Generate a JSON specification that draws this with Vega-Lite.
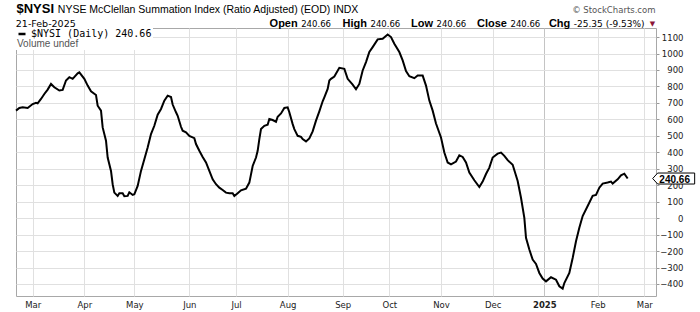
{
  "$schema": "https://vega.github.io/schema/vega-lite/v6.json",
  "width": 640,
  "height": 268,
  "autosize": {"type": "none"},
  "padding": {"left": 16, "top": 28, "right": 44, "bottom": 16},
  "background": "white",
  "data": {"values": [
    {"date": "2024-02-20", "value": 653}, {"date": "2024-02-22", "value": 669}, {"date": "2024-02-24", "value": 673}, {"date": "2024-02-27", "value": 669},
    {"date": "2024-03-01", "value": 693}, {"date": "2024-03-03", "value": 701}, {"date": "2024-03-04", "value": 697}, {"date": "2024-03-06", "value": 724},
    {"date": "2024-03-08", "value": 754}, {"date": "2024-03-10", "value": 781}, {"date": "2024-03-12", "value": 815}, {"date": "2024-03-14", "value": 795},
    {"date": "2024-03-17", "value": 775}, {"date": "2024-03-19", "value": 779}, {"date": "2024-03-21", "value": 836}, {"date": "2024-03-23", "value": 856},
    {"date": "2024-03-25", "value": 846}, {"date": "2024-03-28", "value": 880}, {"date": "2024-03-29", "value": 886}, {"date": "2024-04-01", "value": 846},
    {"date": "2024-04-03", "value": 805}, {"date": "2024-04-05", "value": 771}, {"date": "2024-04-08", "value": 748}, {"date": "2024-04-09", "value": 683},
    {"date": "2024-04-11", "value": 653}, {"date": "2024-04-12", "value": 551}, {"date": "2024-04-14", "value": 470}, {"date": "2024-04-15", "value": 368},
    {"date": "2024-04-17", "value": 287}, {"date": "2024-04-18", "value": 206}, {"date": "2024-04-19", "value": 155}, {"date": "2024-04-21", "value": 135},
    {"date": "2024-04-22", "value": 151}, {"date": "2024-04-24", "value": 151}, {"date": "2024-04-25", "value": 133}, {"date": "2024-04-27", "value": 135},
    {"date": "2024-04-28", "value": 157}, {"date": "2024-04-30", "value": 141}, {"date": "2024-05-01", "value": 145}, {"date": "2024-05-03", "value": 196},
    {"date": "2024-05-05", "value": 287}, {"date": "2024-05-07", "value": 358}, {"date": "2024-05-09", "value": 429}, {"date": "2024-05-11", "value": 511},
    {"date": "2024-05-13", "value": 561}, {"date": "2024-05-15", "value": 628}, {"date": "2024-05-17", "value": 663}, {"date": "2024-05-19", "value": 714},
    {"date": "2024-05-21", "value": 744}, {"date": "2024-05-23", "value": 736}, {"date": "2024-05-24", "value": 690}, {"date": "2024-05-26", "value": 643},
    {"date": "2024-05-27", "value": 622}, {"date": "2024-05-29", "value": 555}, {"date": "2024-05-30", "value": 531}, {"date": "2024-06-01", "value": 521},
    {"date": "2024-06-03", "value": 500}, {"date": "2024-06-06", "value": 486}, {"date": "2024-06-07", "value": 450}, {"date": "2024-06-09", "value": 409},
    {"date": "2024-06-11", "value": 372}, {"date": "2024-06-13", "value": 338}, {"date": "2024-06-15", "value": 287}, {"date": "2024-06-17", "value": 236},
    {"date": "2024-06-19", "value": 206}, {"date": "2024-06-21", "value": 185}, {"date": "2024-06-23", "value": 171}, {"date": "2024-06-25", "value": 155},
    {"date": "2024-06-27", "value": 151}, {"date": "2024-06-29", "value": 151}, {"date": "2024-06-30", "value": 135}, {"date": "2024-07-02", "value": 151},
    {"date": "2024-07-04", "value": 169}, {"date": "2024-07-07", "value": 179}, {"date": "2024-07-09", "value": 216}, {"date": "2024-07-10", "value": 266},
    {"date": "2024-07-11", "value": 317}, {"date": "2024-07-13", "value": 368}, {"date": "2024-07-14", "value": 409}, {"date": "2024-07-15", "value": 480},
    {"date": "2024-07-16", "value": 541}, {"date": "2024-07-18", "value": 561}, {"date": "2024-07-20", "value": 567}, {"date": "2024-07-21", "value": 602},
    {"date": "2024-07-23", "value": 596}, {"date": "2024-07-25", "value": 585}, {"date": "2024-07-26", "value": 616}, {"date": "2024-07-28", "value": 636},
    {"date": "2024-07-30", "value": 669}, {"date": "2024-08-01", "value": 673}, {"date": "2024-08-02", "value": 643}, {"date": "2024-08-04", "value": 571},
    {"date": "2024-08-05", "value": 541}, {"date": "2024-08-07", "value": 500}, {"date": "2024-08-09", "value": 494}, {"date": "2024-08-10", "value": 480},
    {"date": "2024-08-12", "value": 466}, {"date": "2024-08-14", "value": 484}, {"date": "2024-08-16", "value": 527}, {"date": "2024-08-18", "value": 592},
    {"date": "2024-08-20", "value": 649}, {"date": "2024-08-22", "value": 710}, {"date": "2024-08-23", "value": 734}, {"date": "2024-08-25", "value": 785},
    {"date": "2024-08-26", "value": 836}, {"date": "2024-08-27", "value": 846}, {"date": "2024-08-29", "value": 860}, {"date": "2024-09-01", "value": 913},
    {"date": "2024-09-04", "value": 907}, {"date": "2024-09-06", "value": 846}, {"date": "2024-09-09", "value": 811}, {"date": "2024-09-11", "value": 783},
    {"date": "2024-09-13", "value": 815}, {"date": "2024-09-15", "value": 897}, {"date": "2024-09-17", "value": 948}, {"date": "2024-09-19", "value": 1009},
    {"date": "2024-09-21", "value": 1039}, {"date": "2024-09-24", "value": 1086}, {"date": "2024-09-27", "value": 1090}, {"date": "2024-09-30", "value": 1116},
    {"date": "2024-10-02", "value": 1100}, {"date": "2024-10-04", "value": 1059}, {"date": "2024-10-07", "value": 1009}, {"date": "2024-10-09", "value": 958},
    {"date": "2024-10-11", "value": 893}, {"date": "2024-10-13", "value": 862}, {"date": "2024-10-16", "value": 850}, {"date": "2024-10-18", "value": 866},
    {"date": "2024-10-21", "value": 866}, {"date": "2024-10-23", "value": 805}, {"date": "2024-10-25", "value": 714}, {"date": "2024-10-27", "value": 653},
    {"date": "2024-10-29", "value": 575}, {"date": "2024-11-01", "value": 490}, {"date": "2024-11-03", "value": 399}, {"date": "2024-11-05", "value": 338},
    {"date": "2024-11-07", "value": 327}, {"date": "2024-11-10", "value": 344}, {"date": "2024-11-12", "value": 382}, {"date": "2024-11-14", "value": 372},
    {"date": "2024-11-16", "value": 338}, {"date": "2024-11-18", "value": 277}, {"date": "2024-11-21", "value": 230}, {"date": "2024-11-24", "value": 189},
    {"date": "2024-11-26", "value": 222}, {"date": "2024-11-28", "value": 268}, {"date": "2024-11-30", "value": 307}, {"date": "2024-12-02", "value": 368},
    {"date": "2024-12-05", "value": 392}, {"date": "2024-12-07", "value": 398}, {"date": "2024-12-09", "value": 378}, {"date": "2024-12-11", "value": 352},
    {"date": "2024-12-14", "value": 324}, {"date": "2024-12-17", "value": 226}, {"date": "2024-12-19", "value": 124}, {"date": "2024-12-21", "value": 2},
    {"date": "2024-12-22", "value": -120}, {"date": "2024-12-24", "value": -191}, {"date": "2024-12-26", "value": -252}, {"date": "2024-12-28", "value": -278},
    {"date": "2024-12-30", "value": -333}, {"date": "2025-01-01", "value": -367}, {"date": "2025-01-03", "value": -384}, {"date": "2025-01-06", "value": -359},
    {"date": "2025-01-09", "value": -374}, {"date": "2025-01-11", "value": -414}, {"date": "2025-01-13", "value": -428}, {"date": "2025-01-14", "value": -394},
    {"date": "2025-01-17", "value": -333}, {"date": "2025-01-19", "value": -242}, {"date": "2025-01-21", "value": -140}, {"date": "2025-01-23", "value": -59},
    {"date": "2025-01-25", "value": 13}, {"date": "2025-01-28", "value": 74}, {"date": "2025-01-31", "value": 135}, {"date": "2025-02-02", "value": 141},
    {"date": "2025-02-04", "value": 185}, {"date": "2025-02-06", "value": 210}, {"date": "2025-02-09", "value": 216}, {"date": "2025-02-11", "value": 222},
    {"date": "2025-02-12", "value": 210}, {"date": "2025-02-15", "value": 236}, {"date": "2025-02-17", "value": 260}, {"date": "2025-02-19", "value": 270},
    {"date": "2025-02-21", "value": 240.66}
  ]},
  "resolve": {"axis": {"x": "independent", "y": "independent"}},
  "layer": [
    {
      "mark": {"type": "line", "strokeWidth": 2, "interpolate": "linear"},
      "encoding": {
        "x": {"field": "date", "type": "temporal",
          "scale": {"type": "utc", "domain": [{"year": 2024, "month": 2, "date": 20, "utc": true}, {"year": 2025, "month": 3, "date": 10, "utc": true}]},
          "axis": {"orient": "bottom", "title": null, "labels": true, "grid": true, "ticks": false, "tickSize": 0,
            "values": [
              {"year": 2024, "month": 3, "date": 1, "utc": true}, {"year": 2024, "month": 4, "date": 1, "utc": true},
              {"year": 2024, "month": 5, "date": 1, "utc": true}, {"year": 2024, "month": 6, "date": 3, "utc": true},
              {"year": 2024, "month": 7, "date": 1, "utc": true}, {"year": 2024, "month": 8, "date": 1, "utc": true},
              {"year": 2024, "month": 9, "date": 3, "utc": true}, {"year": 2024, "month": 10, "date": 1, "utc": true},
              {"year": 2024, "month": 11, "date": 1, "utc": true}, {"year": 2024, "month": 12, "date": 2, "utc": true},
              {"year": 2025, "month": 1, "date": 2, "utc": true}, {"year": 2025, "month": 2, "date": 3, "utc": true},
              {"year": 2025, "month": 3, "date": 3, "utc": true}
            ],
            "labelExpr": "utcmonth(datum.value) == 0 ? utcFormat(datum.value, '%Y') : utcFormat(datum.value, '%b')",
            "labelFontWeight": {"condition": {"test": "utcmonth(datum.value) == 0", "value": "bold"}, "value": "normal"},
            "gridColor": {"condition": {"test": "utcmonth(datum.value) == 0", "value": "#c4c4c4"}, "value": "#e0e0e0"},
            "labelFont": "DejaVu Sans", "labelFontSize": 8.5, "labelColor": "#222", "labelPadding": 4,
            "labelOverlap": false, "labelFlush": false, "labelBound": false}},
        "y": {"field": "value", "type": "quantitative",
          "scale": {"domain": [-473, 1155], "nice": false, "zero": false},
          "axis": {"orient": "right", "title": null, "labels": true, "grid": true, "ticks": true, "tickSize": 3, "tickColor": "#999",
            "values": [-400, -300, -200, -100, 0, 100, 200, 300, 400, 500, 600, 700, 800, 900, 1000, 1100],
            "format": "d", "labelAlign": "right", "labelBaseline": "middle", "labelPadding": 24,
            "labelFont": "DejaVu Sans", "labelFontSize": 8.5, "labelColor": "#222", "gridColor": "#e0e0e0",
            "labelOverlap": false, "labelFlush": false, "labelBound": false}},
        "color": {"datum": "$NYSI (Daily) 240.66", "scale": {"range": ["#000000"]},
          "legend": {"orient": "top-left", "offset": 0, "padding": 1, "fillColor": "white",
            "title": "Volume undef", "titleOrient": "bottom", "titleAnchor": "start", "titleFont": "Liberation Sans",
            "titleFontSize": 10, "titleFontWeight": "normal", "titleColor": "#555", "titlePadding": 0,
            "labelFont": "DejaVu Sans Mono", "labelFontSize": 10, "labelColor": "#000", "labelOffset": 4,
            "symbolType": "stroke", "symbolSize": 49, "symbolStrokeWidth": 2.5, "symbolStrokeColor": "#000", "symbolOffset": 0}}
      }
    },
    {
      "transform": [{"filter": "datum.value == 240.66"}],
      "mark": {"type": "point", "shape": "M25,0L30,-5.5L67,-5.5L67,5.5L30,5.5Z", "size": 4, "filled": true,
        "fill": "white", "stroke": "#000", "strokeWidth": 1, "opacity": 1, "fillOpacity": 1},
      "encoding": {
        "x": {"field": "date", "type": "temporal", "scale": {"type": "utc", "domain": [{"year": 2024, "month": 2, "date": 20, "utc": true}, {"year": 2025, "month": 3, "date": 10, "utc": true}]}, "axis": null},
        "y": {"field": "value", "type": "quantitative", "scale": {"domain": [-473, 1155], "nice": false, "zero": false}, "axis": null}
      }
    },
    {
      "transform": [{"filter": "datum.value == 240.66"}],
      "mark": {"type": "text", "dx": 47, "dy": 1, "align": "center", "baseline": "middle", "font": "Liberation Sans", "fontSize": 10, "fontWeight": "bold", "color": "#000"},
      "encoding": {
        "x": {"field": "date", "type": "temporal", "scale": {"type": "utc", "domain": [{"year": 2024, "month": 2, "date": 20, "utc": true}, {"year": 2025, "month": 3, "date": 10, "utc": true}]}, "axis": null},
        "y": {"field": "value", "type": "quantitative", "scale": {"domain": [-473, 1155], "nice": false, "zero": false}, "axis": null},
        "text": {"field": "value", "format": ".2f"}
      }
    },
    {
      "transform": [{"filter": "datum.value == 240.66"}],
      "mark": {"type": "point", "opacity": 0},
      "encoding": {
        "x": {"field": "date", "type": "temporal", "scale": {"type": "utc", "domain": [{"year": 2024, "month": 2, "date": 20, "utc": true}, {"year": 2025, "month": 3, "date": 10, "utc": true}]},
          "axis": {"orient": "top", "title": "$NYSI", "titleX": 0, "titleY": -15.4, "titleFont": "Liberation Sans", "titleFontSize": 13, "titleFontWeight": "bold"}},
        "y": {"field": "value", "type": "quantitative", "scale": {"domain": [-473, 1155], "nice": false, "zero": false},
          "axis": {"orient": "left", "title": "NYSE McClellan Summation Index (Ratio Adjusted) (EOD) INDX", "titleX": 41.3, "titleY": -15.4, "titleFont": "Liberation Sans", "titleFontSize": 10.5}}
      }
    },
    {
      "transform": [{"filter": "datum.value == 240.66"}],
      "mark": {"type": "point", "opacity": 0},
      "encoding": {
        "x": {"field": "date", "type": "temporal", "scale": {"type": "utc", "domain": [{"year": 2024, "month": 2, "date": 20, "utc": true}, {"year": 2025, "month": 3, "date": 10, "utc": true}]},
          "axis": {"orient": "top", "title": "21-Feb-2025", "titleX": -0.7, "titleY": -1.5, "titleFont": "DejaVu Sans", "titleFontSize": 9.5}},
        "y": {"field": "value", "type": "quantitative", "scale": {"domain": [-473, 1155], "nice": false, "zero": false},
          "axis": {"orient": "left", "title": "© StockCharts.com", "titleX": 639, "titleY": -16, "titleAlign": "right", "titleFont": "DejaVu Sans", "titleFontSize": 8.5, "titleColor": "#555"}}
      }
    },
    {
      "transform": [{"filter": "datum.value == 240.66"}],
      "mark": {"type": "point", "opacity": 0},
      "encoding": {
        "x": {"field": "date", "type": "temporal", "scale": {"type": "utc", "domain": [{"year": 2024, "month": 2, "date": 20, "utc": true}, {"year": 2025, "month": 3, "date": 10, "utc": true}]},
          "axis": {"orient": "top", "title": "Open", "titleX": 281.2, "titleY": -1.5, "titleAlign": "right", "titleFont": "Liberation Sans", "titleFontSize": 11, "titleFontWeight": "bold"}},
        "y": {"field": "value", "type": "quantitative", "scale": {"domain": [-473, 1155], "nice": false, "zero": false},
          "axis": {"orient": "left", "title": "240.66", "titleX": 284.7, "titleY": -1.5, "titleFont": "DejaVu Sans", "titleFontSize": 8.5}}
      }
    },
    {
      "transform": [{"filter": "datum.value == 240.66"}],
      "mark": {"type": "point", "opacity": 0},
      "encoding": {
        "x": {"field": "date", "type": "temporal", "scale": {"type": "utc", "domain": [{"year": 2024, "month": 2, "date": 20, "utc": true}, {"year": 2025, "month": 3, "date": 10, "utc": true}]},
          "axis": {"orient": "top", "title": "High", "titleX": 350.5, "titleY": -1.5, "titleAlign": "right", "titleFont": "Liberation Sans", "titleFontSize": 11, "titleFontWeight": "bold"}},
        "y": {"field": "value", "type": "quantitative", "scale": {"domain": [-473, 1155], "nice": false, "zero": false},
          "axis": {"orient": "left", "title": "240.66", "titleX": 354, "titleY": -1.5, "titleFont": "DejaVu Sans", "titleFontSize": 8.5}}
      }
    },
    {
      "transform": [{"filter": "datum.value == 240.66"}],
      "mark": {"type": "point", "opacity": 0},
      "encoding": {
        "x": {"field": "date", "type": "temporal", "scale": {"type": "utc", "domain": [{"year": 2024, "month": 2, "date": 20, "utc": true}, {"year": 2025, "month": 3, "date": 10, "utc": true}]},
          "axis": {"orient": "top", "title": "Low", "titleX": 416.5, "titleY": -1.5, "titleAlign": "right", "titleFont": "Liberation Sans", "titleFontSize": 11, "titleFontWeight": "bold"}},
        "y": {"field": "value", "type": "quantitative", "scale": {"domain": [-473, 1155], "nice": false, "zero": false},
          "axis": {"orient": "left", "title": "240.66", "titleX": 420, "titleY": -1.5, "titleFont": "DejaVu Sans", "titleFontSize": 8.5}}
      }
    },
    {
      "transform": [{"filter": "datum.value == 240.66"}],
      "mark": {"type": "point", "opacity": 0},
      "encoding": {
        "x": {"field": "date", "type": "temporal", "scale": {"type": "utc", "domain": [{"year": 2024, "month": 2, "date": 20, "utc": true}, {"year": 2025, "month": 3, "date": 10, "utc": true}]},
          "axis": {"orient": "top", "title": "Close", "titleX": 490.5, "titleY": -1.5, "titleAlign": "right", "titleFont": "Liberation Sans", "titleFontSize": 11, "titleFontWeight": "bold"}},
        "y": {"field": "value", "type": "quantitative", "scale": {"domain": [-473, 1155], "nice": false, "zero": false},
          "axis": {"orient": "left", "title": "240.66", "titleX": 494, "titleY": -1.5, "titleFont": "DejaVu Sans", "titleFontSize": 8.5}}
      }
    },
    {
      "transform": [{"filter": "datum.value == 240.66"}],
      "mark": {"type": "point", "opacity": 0},
      "encoding": {
        "x": {"field": "date", "type": "temporal", "scale": {"type": "utc", "domain": [{"year": 2024, "month": 2, "date": 20, "utc": true}, {"year": 2025, "month": 3, "date": 10, "utc": true}]},
          "axis": {"orient": "top", "title": "Chg", "titleX": 553.8, "titleY": -1.5, "titleAlign": "right", "titleFont": "Liberation Sans", "titleFontSize": 11, "titleFontWeight": "bold"}},
        "y": {"field": "value", "type": "quantitative", "scale": {"domain": [-473, 1155], "nice": false, "zero": false},
          "axis": {"orient": "left", "title": "-25.35 (-9.53%)", "titleX": 557.3, "titleY": -1.5, "titleFont": "DejaVu Sans", "titleFontSize": 9}}
      }
    },
    {
      "transform": [{"filter": "datum.value == 240.66"}],
      "mark": {"type": "point", "opacity": 0},
      "encoding": {
        "x": {"field": "date", "type": "temporal", "scale": {"type": "utc", "domain": [{"year": 2024, "month": 2, "date": 20, "utc": true}, {"year": 2025, "month": 3, "date": 10, "utc": true}]},
          "axis": {"orient": "top", "title": "▼", "titleX": 636, "titleY": -3, "titleAlign": "center", "titleFont": "DejaVu Sans", "titleFontSize": 7, "titleColor": "#8b1538"}},
        "y": {"field": "value", "type": "quantitative", "scale": {"domain": [-473, 1155], "nice": false, "zero": false}, "axis": null}
      }
    }
  ],
  "config": {
    "view": {"stroke": "#a8a8a8", "strokeWidth": 1},
    "axis": {"labels": false, "ticks": false, "domain": false, "grid": false, "titleAngle": 0, "titleAlign": "left",
      "titleBaseline": "alphabetic", "titlePadding": 0, "titleFont": "DejaVu Sans", "titleFontWeight": "normal", "titleColor": "#000"}
  }
}
